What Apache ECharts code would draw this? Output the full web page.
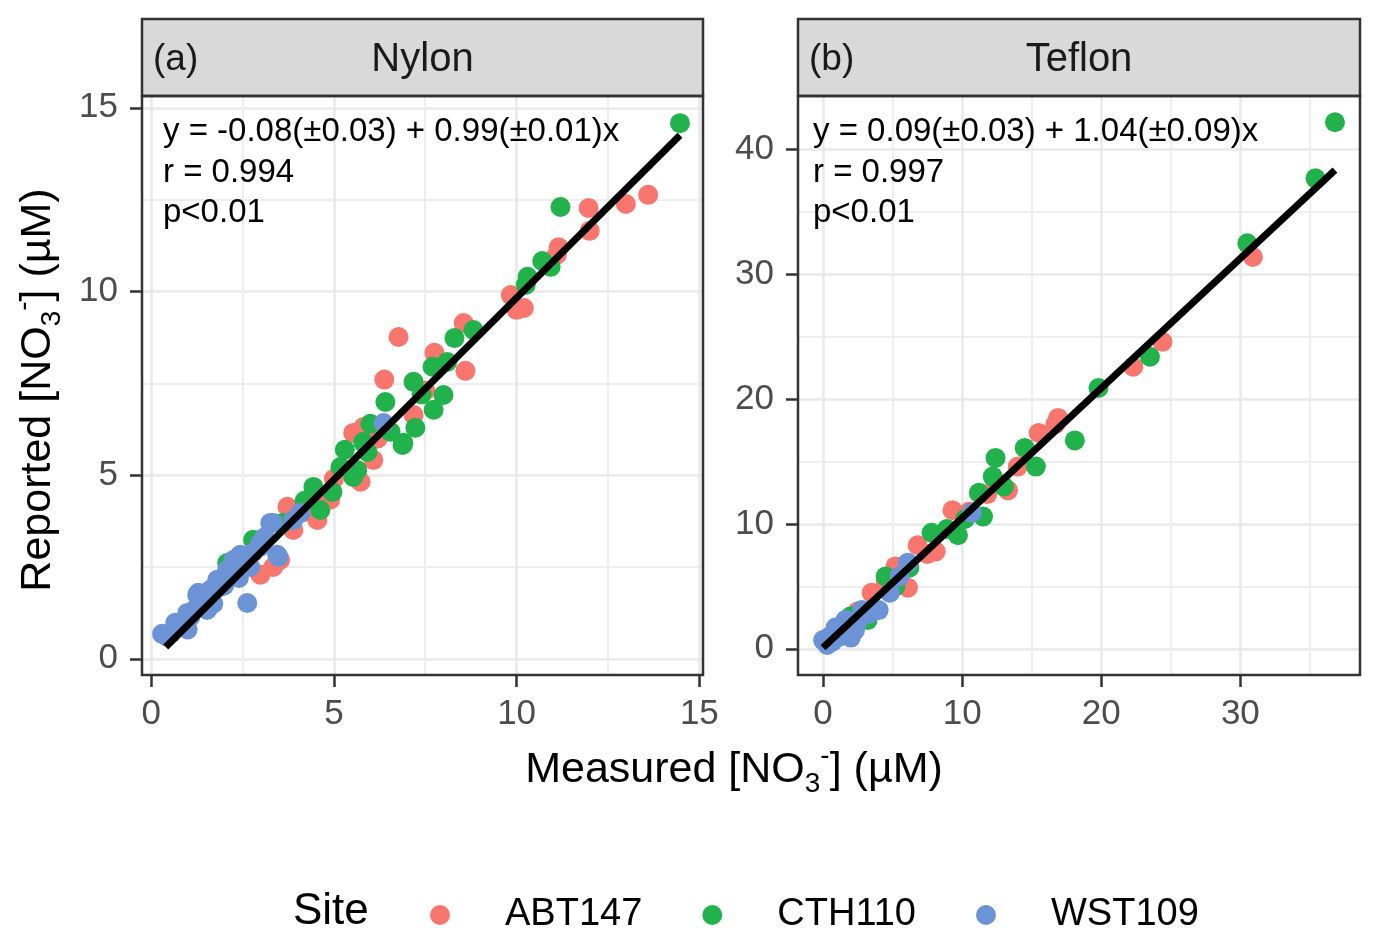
<!DOCTYPE html>
<html><head><meta charset="utf-8">
<script src="https://cdn.jsdelivr.net/npm/echarts@6/dist/echarts.min.js"></script>
<style>html,body{margin:0;padding:0;background:#fff}#c{width:1382px;height:952px}</style>
</head><body><div id="c"></div>
<script>
// ---------- data ----------
const sites = ['ABT147', 'CTH110', 'WST109'];
const siteColors = ['#F8766D', '#22B24C', '#6B93D6'];

const nylonABT147 = [[11.97,12.27],[12.99,12.38],[13.6,12.63],[12.0,11.65],[11.15,11.2],[11.1,11.0],[9.84,9.9],[10.2,9.55],[10.0,9.5],
  [6.77,8.76],[8.55,9.14],[7.75,8.33],[8.6,7.84],[6.38,7.6],[7.18,6.64],[7.5,7.3],[5.81,6.31],[6.2,6.0],[6.08,5.41],[5.73,4.82],
  [5.0,4.9],[4.9,4.33],[4.82,4.33],[4.55,3.78],[4.2,4.0],[3.73,4.14],[3.89,3.51],[3.0,3.1],[3.53,2.69],[3.34,2.5],[2.99,2.29],[5.53,6.15]];
const nylonCTH110 = [[14.47,14.58],[11.2,12.3],[10.7,10.83],[10.93,10.67],[10.3,10.4],[10.25,10.18],[8.82,8.95],[8.3,8.73],
  [8.1,8.08],[7.7,7.95],[7.18,7.54],[8.0,7.18],[7.4,7.2],[6.41,6.99],[7.73,6.78],[7.23,6.29],[6.88,5.82],[6.9,5.88],[6.55,6.18],
  [6.0,6.4],[5.8,5.9],[5.3,5.69],[5.92,5.63],[5.64,5.14],[5.53,4.95],[5.18,5.22],[4.96,4.54],[4.44,4.68],[4.63,4.05],[4.2,4.3],
  [3.6,3.7],[2.79,3.24],[2.5,2.7],[2.08,2.61]];
const nylonWST109 = [[0.3,0.68],[0.38,0.65],[0.44,0.6],[0.55,0.7],[0.66,0.98],[0.71,0.87],[1.0,0.8],[0.85,1.0],[0.99,1.25],[1.07,1.14],
  [1.2,1.35],[1.26,1.74],[1.29,1.8],[1.45,1.6],[1.53,1.33],[1.7,1.5],[1.62,1.88],[1.81,2.15],[1.89,1.96],[2.0,2.0],[2.08,2.42],
  [2.2,2.3],[2.25,2.61],[2.25,2.69],[2.4,2.2],[2.44,2.83],[2.63,1.52],[2.71,2.5],[2.8,2.9],[2.99,3.05],[2.99,3.16],[3.1,3.3],
  [3.26,3.7],[3.34,3.7],[3.45,2.83],[3.48,2.78],[3.89,3.78],[4.08,3.97],[6.36,6.42]];

const teflonABT147 = [[30.9,31.4],[24.4,24.6],[22.3,22.6],[16.9,18.5],[16.7,18.0],[15.5,17.3],[14.0,14.6],[13.3,12.7],[12.5,13.2],
  [11.8,12.4],[10.5,11.0],[9.3,11.1],[8.1,7.8],[7.5,7.6],[6.8,8.3],[6.1,4.9],[5.2,6.6],[4.5,5.5],[3.5,4.5],[2.5,3.0]];
const teflonCTH110 = [[36.8,42.2],[35.4,37.7],[30.5,32.5],[23.5,23.4],[19.8,20.9],[18.1,16.7],[15.3,14.6],[14.5,16.1],[12.4,15.3],
  [13.0,13.0],[12.2,13.8],[11.2,12.5],[11.5,10.6],[10.2,10.4],[9.7,9.1],[8.9,9.6],[7.8,9.3],[6.2,6.5],[5.2,5.0],[4.5,5.8],
  [3.2,2.3],[2.0,2.6]];
const teflonWST109 = [[0,0.7],[0.3,0.3],[0.4,0.5],[0.5,1.0],[0.7,0.6],[0.9,1.7],[1.0,1.2],[1.2,1.0],[1.6,2.3],[1.9,1.7],[2.0,0.9],
  [2.3,1.5],[2.5,2.2],[2.8,3.1],[3.3,2.8],[4.0,3.1],[4.8,4.5],[5.5,5.8],[6.1,6.9],[10.7,10.9]];

const nylonFit = [[0.4, 0.32], [14.47, 14.25]];
const teflonFit = [[0.0, 0.09], [36.8, 38.36]];

const nylonEq = ['y = -0.08(±0.03) + 0.99(±0.01)x', 'r = 0.994', 'p<0.01'];
const teflonEq = ['y = 0.09(±0.03) + 1.04(±0.09)x', 'r = 0.997', 'p<0.01'];
const panelTags = ['(a)', '(b)'];
const panelNames = ['Nylon', 'Teflon'];

const nylonXRange = [-0.25, 15.1], nylonYRange = [-0.44, 15.32];
const teflonXRange = [-1.8, 38.6], teflonYRange = [-2.1, 44.3];

// ---------- layout ----------
const FONT = 'Liberation Sans, Arial, sans-serif';
const P = [{left:142, top:96, width:561, height:579}, {left:798, top:96, width:562, height:579}];
const STRIP_TOP = 19;

function xAxisCfg(gi, range, split) {
  return {
    gridIndex: gi, type: 'value', min: range[0], max: range[1], splitNumber: split,
    axisLine: {show: false, onZero: false},
    axisTick: {show: true, length: 12, lineStyle: {color: '#333', width: 2.5}},
    axisLabel: {color: '#4D4D4D', fontSize: 35, fontFamily: FONT, margin: 22, showMinLabel: false, showMaxLabel: false},
    splitLine: {show: true, showMinLine: false, showMaxLine: false, lineStyle: {color: '#E9E9E9', width: 2.5}},
    minorTick: {show: false, splitNumber: 2},
    minorSplitLine: {show: true, lineStyle: {color: '#EEEEEE', width: 2}}
  };
}
function yAxisCfg(gi, range, split) {
  const c = xAxisCfg(gi, range, split);
  c.axisLabel = Object.assign({}, c.axisLabel, {margin: 24});
  return c;
}

const seriesList = [];
const panelData = [[nylonABT147, nylonCTH110, nylonWST109], [teflonABT147, teflonCTH110, teflonWST109]];
const fits = [nylonFit, teflonFit];
panelData.forEach((sets, gi) => {
  sets.forEach((d, k) => {
    seriesList.push({
      type: 'scatter', name: sites[k], xAxisIndex: gi, yAxisIndex: gi, data: d,
      symbol: 'circle', symbolSize: 20, itemStyle: {color: siteColors[k], opacity: 1},
      emphasis: {disabled: true}, z: 3
    });
  });
  seriesList.push({
    type: 'line', name: 'fit' + gi, xAxisIndex: gi, yAxisIndex: gi, data: fits[gi],
    symbol: 'none', lineStyle: {color: '#000', width: 7}, z: 4, silent: true
  });
});

const graphics = [];
P.forEach((p, i) => {
  graphics.push({type: 'rect', shape: {x: p.left, y: STRIP_TOP, width: p.width, height: p.top - STRIP_TOP},
    style: {fill: '#D9D9D9', stroke: '#333', lineWidth: 2.5}, z: 50});
  graphics.push({type: 'text', x: p.left + 11, y: (STRIP_TOP + p.top) / 2 + 2,
    style: {text: panelTags[i], font: '37px ' + FONT, fill: '#1A1A1A', textVerticalAlign: 'middle'}, z: 51});
  graphics.push({type: 'text', x: p.left + p.width / 2, y: (STRIP_TOP + p.top) / 2 + 2,
    style: {text: panelNames[i], font: '40px ' + FONT, fill: '#1A1A1A', textAlign: 'center', textVerticalAlign: 'middle'}, z: 51});
  graphics.push({type: 'rect', shape: {x: p.left, y: p.top, width: p.width, height: p.height},
    style: {fill: 'none', stroke: '#333', lineWidth: 2.5}, z: 50});
  const eq = i === 0 ? nylonEq : teflonEq;
  eq.forEach((t, j) => {
    graphics.push({type: 'text', x: p.left + 21 - (i === 1 ? 6 : 0), y: 132 + j * 40.5,
      style: {text: t, font: '33px ' + FONT, fill: '#000', textVerticalAlign: 'middle'}, z: 52});
  });
});

const richNO3 = {
  sub: {fontSize: 28, fontFamily: FONT, fill: '#000', color: '#000', verticalAlign: 'bottom', lineHeight: 56},
  sup: {fontSize: 28, fontFamily: FONT, fill: '#000', color: '#000', verticalAlign: 'top', lineHeight: 56},
  m: {fontSize: 43, fontFamily: FONT, fill: '#000', color: '#000', lineHeight: 56}
};
graphics.push({type: 'text', x: 734, y: 770,
  style: {text: '{m|Measured [NO}{sub|3}{sup|-}{m|] (µM)}', rich: richNO3, textAlign: 'center', textVerticalAlign: 'middle'}, z: 52});
graphics.push({type: 'text', x: 38, y: 390, rotation: Math.PI / 2,
  style: {text: '{m|Reported [NO}{sub|3}{sup|-}{m|] (µM)}', rich: richNO3, textAlign: 'center', textVerticalAlign: 'middle'}, z: 52});
graphics.push({type: 'text', x: 293, y: 912,
  style: {text: 'Site', font: '44px ' + FONT, fill: '#000', textVerticalAlign: 'middle'}, z: 52});

const option = {
  backgroundColor: '#fff',
  animation: false,
  grid: P.map(p => ({left: p.left, top: p.top, width: p.width, height: p.height, show: false, containLabel: false})),
  xAxis: [xAxisCfg(0, nylonXRange, 3), xAxisCfg(1, teflonXRange, 4)],
  yAxis: [yAxisCfg(0, nylonYRange, 3), yAxisCfg(1, teflonYRange, 4)],
  legend: {
    data: sites, left: 425, top: 888, orient: 'horizontal', icon: 'circle',
    itemWidth: 20, itemHeight: 20, itemGap: 60,
    textStyle: {fontSize: 38, fontFamily: FONT, color: '#000', lineHeight: 44, padding: [0, 0, 0, 50]},
    selectedMode: false
  },
  series: seriesList,
  graphic: graphics
};
const chart = echarts.init(document.getElementById('c'), null, {renderer: 'canvas'});
chart.setOption(option);
</script></body></html>
